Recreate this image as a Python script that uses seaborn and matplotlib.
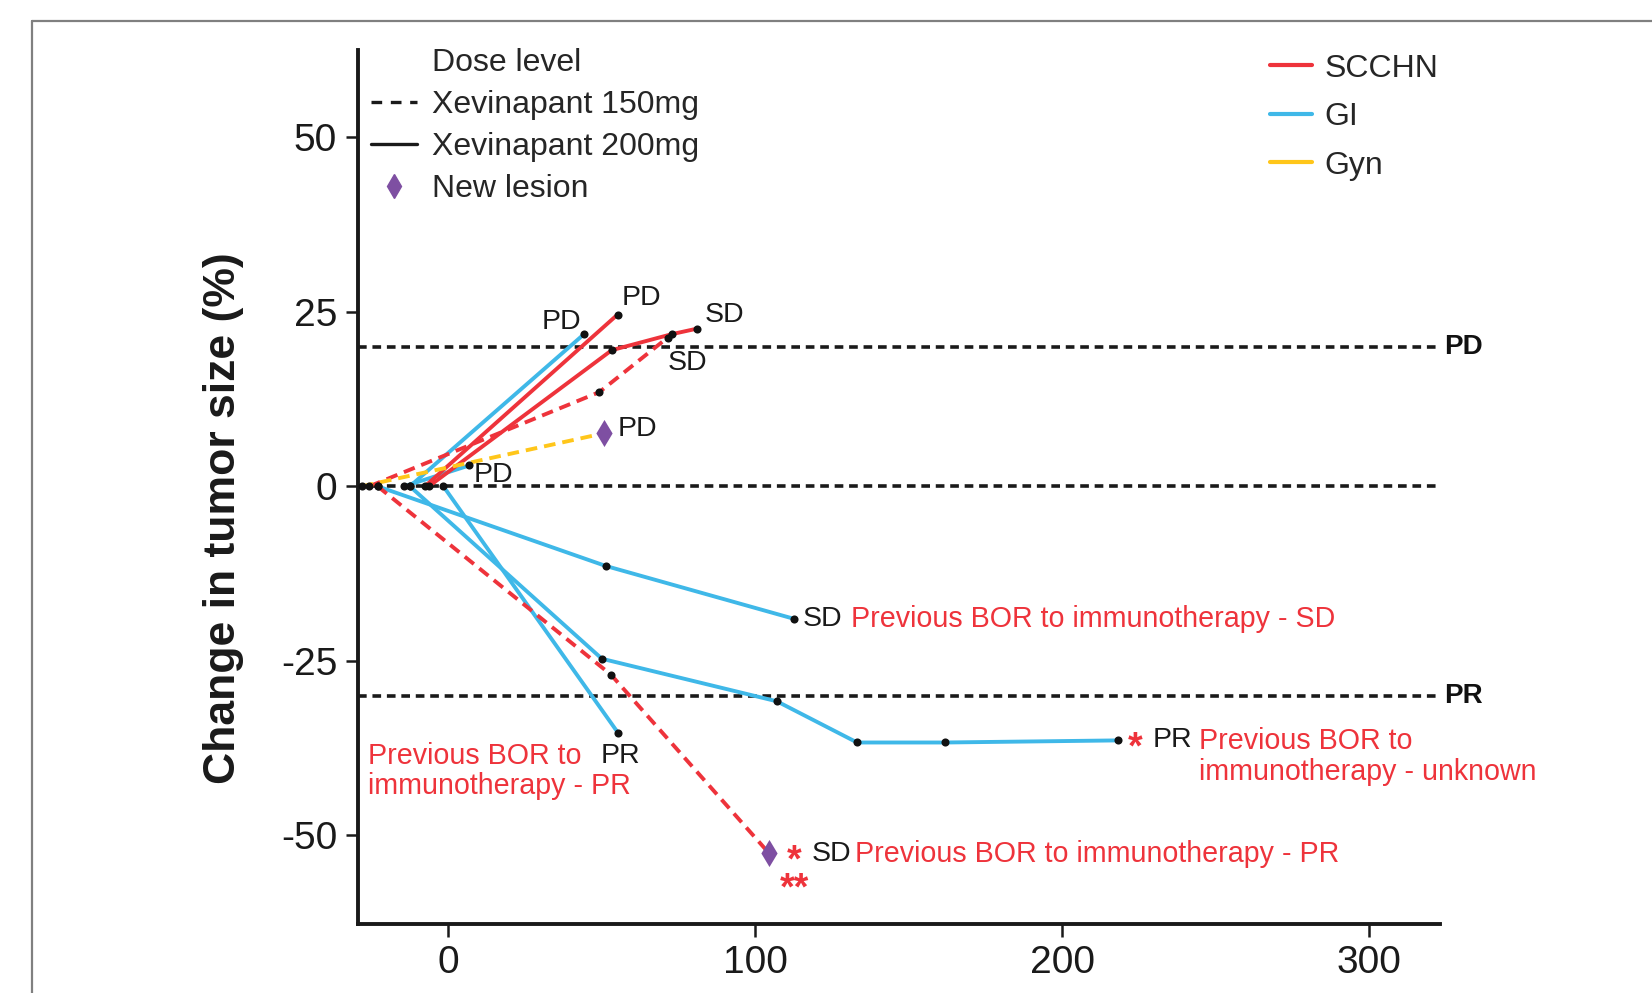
import numpy as np
import pandas as pd
import matplotlib.pyplot as plt
import seaborn as sns
from matplotlib.lines import Line2D

# days on treatment vs % change in tumor size, one pair of lists per patient
p1_day = [-12.4, 44.3]
p1_chg = [0, 21.8]
p2_day = [-7.5, 55.2]
p2_chg = [0, 24.6]
p3_day = [-6.2, 53.3, 72.9, 81.2]
p3_chg = [0, 19.5, 21.8, 22.6]
p4_day = [-25.6, 49.3, 71.5]
p4_chg = [0, 13.5, 21.3]
p5_day = [-28.1, 50.8]
p5_chg = [0, 7.6]
p6_day = [-14.3, 7.0]
p6_chg = [0, 3.0]
p7_day = [-22.9, 51.3, 112.8]
p7_chg = [0, -11.4, -19.0]
p8_day = [-22.9, 53.1, 104.4]
p8_chg = [0, -27.0, -52.5]
p9_day = [-12.4, 50.1, 107.1, 133.2, 161.9, 218.1]
p9_chg = [0, -24.7, -30.8, -36.7, -36.7, -36.4]
p10_day = [-1.5, 55.5]
p10_chg = [0, -35.4]

all_days = [p1_day, p2_day, p3_day, p4_day, p5_day, p6_day, p7_day, p8_day, p9_day, p10_day]
all_chgs = [p1_chg, p2_chg, p3_chg, p4_chg, p5_chg, p6_chg, p7_chg, p8_chg, p9_chg, p10_chg]
tumor = ["GI", "SCCHN", "SCCHN", "SCCHN", "Gyn", "GI", "GI", "SCCHN", "GI", "GI"]
dose = ["200mg", "200mg", "200mg", "150mg", "150mg", "200mg", "200mg", "150mg", "200mg", "200mg"]
new_lesion = [False, False, False, False, True, False, False, True, False, False]
response = ["PD", "PD", "SD", "SD", "PD", "PD", "SD", "SD", "PR", "PR"]

ref_levels = [20, 0, -30]
ref_names = ["PD", "", "PR"]

# colours
red = "#EE333B"
blue = "#3FB8E8"
yellow = "#FFC61A"
purple = "#7E4FA2"
palette = {"SCCHN": red, "GI": blue, "Gyn": yellow}

rows = []
for i in range(len(all_days)):
    n = len(all_days[i])
    for j in range(n):
        rows.append({"patient": i, "day": all_days[i][j], "change": all_chgs[i][j],
                     "tumor": tumor[i], "dose": dose[i],
                     "lesion": new_lesion[i] and j == n - 1})
df = pd.DataFrame(rows)

sns.set_style("ticks")
plt.rcParams['font.family'] = ['Liberation Sans', 'DejaVu Sans']
plt.rcParams['axes.unicode_minus'] = False

fig = plt.figure(figsize=(16.52, 9.93), dpi=100)
ax = fig.add_axes([0.2167, 0.0695, 0.655, 0.8801])

ax.hlines(ref_levels, -29.3, 322, colors="#1a1a1a", linestyles=(0, (2.4, 1.6)), lw=2.6, zorder=1)
for lvl, name in zip(ref_levels, ref_names):
    if name:
        ax.annotate(name, (322, lvl), xytext=(5, 0), textcoords="offset points",
                    ha="left", va="center", fontsize=20, fontweight="bold",
                    color="#111111", annotation_clip=False)

sns.lineplot(data=df, x="day", y="change", hue="tumor", style="dose", units="patient",
             estimator=None, sort=False, palette=palette,
             dashes={"150mg": (3, 1.8), "200mg": ""}, linewidth=2.8,
             legend=False, ax=ax, zorder=3)

sns.scatterplot(data=df[~df["lesion"]], x="day", y="change", color="#111111", s=34,
                linewidth=0, ax=ax, zorder=5)
sns.scatterplot(data=df[df["lesion"]], x="day", y="change", color=purple, marker="d",
                s=190, linewidth=0, ax=ax, zorder=6)

# response labels next to the last scan
label_off = [(-2, 9, "right"), (3, 12, "left"), (5, 10, "left"), (0, -18, "left"),
             (10, 3, "left"), (3, -7, "left"), (6, 0, "left"), (31, -1, "left"),
             (25, 0, "left"), (-13, -16, "left")]
for i in range(len(all_days)):
    dx, dy, ha = label_off[i]
    ax.annotate(response[i], (all_days[i][-1], all_chgs[i][-1]), xytext=(dx, dy),
                textcoords="offset points", ha=ha, va="center", fontsize=20.5,
                color="#1a1a1a", zorder=7)

note_kw = dict(textcoords="offset points", color=red, fontsize=20.6, ha="left", va="center",
               annotation_clip=False)
ax.annotate("Previous BOR to immunotherapy - SD", (p7_day[-1], p7_chg[-1]), xytext=(41, 0), **note_kw)
ax.annotate("Previous BOR to immunotherapy - PR", (p8_day[-1], p8_chg[-1]), xytext=(62.5, -1), **note_kw)
ax.annotate("Previous BOR to\nimmunotherapy - unknown", (p9_day[-1], p9_chg[-1]), xytext=(58.5, -11.5),
            linespacing=1.15, **note_kw)
ax.annotate("Previous BOR to", (p10_day[-1], p10_chg[-1]), xytext=(-180, -16.5), **note_kw)
ax.annotate("immunotherapy - PR", (p10_day[-1], p10_chg[-1]), xytext=(-180, -37.5), **note_kw)

star_kw = dict(textcoords="offset points", color=red, fontsize=27, fontweight="bold",
               ha="center", va="center")
ax.annotate("*", (p9_day[-1], p9_chg[-1]), xytext=(12.5, -6), **star_kw)
ax.annotate("*\n**", (p8_day[-1], p8_chg[-1]), xytext=(18.5, -33.5), textcoords="offset points",
            color=red, fontsize=27, fontweight="bold", ha="center", va="baseline",
            multialignment="center", linespacing=0.72)

ax.set_xlim(-29.3, 323)
ax.set_ylim(-62.7, 62.5)
ax.set_xticks([0, 100, 200, 300])
ax.set_yticks([-50, -25, 0, 25, 50])
ax.set_xlabel("")
ax.set_ylabel("Change in tumor size (%)", fontsize=32, fontweight="bold", color="#1a1a1a")
ax.yaxis.set_label_coords(-0.105, 0.464)
ax.tick_params(axis="both", labelsize=28, length=9, width=1.8, pad=6, colors="#1a1a1a")
for side in ["left", "bottom"]:
    ax.spines[side].set_linewidth(2.8)
    ax.spines[side].set_color("#1a1a1a")
sns.despine(ax=ax)

# legends
dose_handles = [Line2D([], [], linestyle="none"),
                Line2D([], [], color="#1a1a1a", lw=2.4, dashes=(3.2, 2.6)),
                Line2D([], [], color="#1a1a1a", lw=2.4),
                Line2D([], [], color=purple, marker="d", markersize=12, linestyle="none")]
dose_labels = ["Dose level", "Xevinapant 150mg", "Xevinapant 200mg", "New lesion"]
leg1 = fig.legend(dose_handles, dose_labels, loc="upper left", bbox_to_anchor=(0.2246, 0.952),
                  frameon=False, fontsize=23, handlelength=1.45, handletextpad=0.45,
                  labelspacing=0.38, borderpad=0, borderaxespad=0)

tumor_handles = [Line2D([], [], color=palette[t], lw=3) for t in ["SCCHN", "GI", "Gyn"]]
leg2 = fig.legend(tumor_handles, ["SCCHN", "GI", "Gyn"], loc="upper left",
                  bbox_to_anchor=(0.769, 0.946), frameon=False, fontsize=23,
                  handlelength=1.3, handletextpad=0.4, labelspacing=0.58,
                  borderpad=0, borderaxespad=0)

# frame of the original panel
fig.add_artist(Line2D([32 / 1652, 1], [1 - 21 / 993, 1 - 21 / 993], transform=fig.transFigure,
                      color="#808080", lw=1.6))
fig.add_artist(Line2D([32 / 1652, 32 / 1652], [0, 1 - 21 / 993], transform=fig.transFigure,
                      color="#808080", lw=1.6))

fig.savefig("out.png", dpi=100, facecolor="white")
